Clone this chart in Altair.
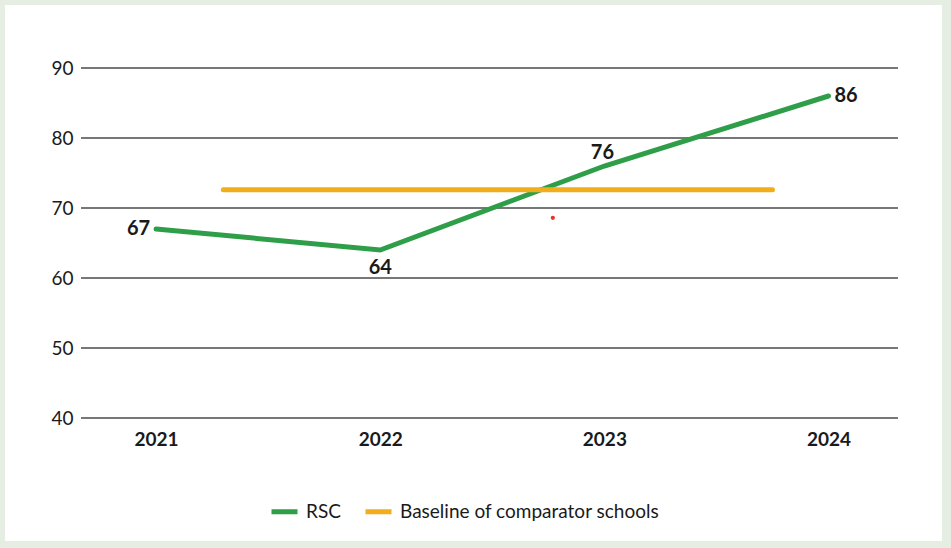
import altair as alt
import pandas as pd

# Series values
years = [2021, 2022, 2023, 2024]
rsc_values = [67, 64, 76, 86]

baseline_label = "Baseline of comparator schools"
baseline_value = 72.6
baseline_span = [2021.3, 2023.75]

marker_point = [2022.77, 68.6]

y_ticks = [40, 50, 60, 70, 80, 90]

series_names = ["RSC", baseline_label]
series_colors = ["#2f9e48", "#f1ae1a"]

FONT = "Lato"
TEXT = "#1a1a1a"

lines_df = pd.DataFrame(
    {"year": years, "value": rsc_values, "series": "RSC"}
)
base_df = pd.DataFrame(
    {"year": baseline_span, "value": [baseline_value] * 2, "series": baseline_label}
)
all_lines = pd.concat([lines_df, base_df], ignore_index=True)

x_scale = alt.Scale(domain=[2020.665, 2024.31], nice=False, zero=False)
y_scale = alt.Scale(domain=[40, 90], nice=False, zero=False)

x_axis = alt.Axis(
    values=years, format="d", title=None, grid=False, domain=False, ticks=False,
    labelFont=FONT, labelFontSize=19, labelFontWeight="bold", labelColor=TEXT,
    labelPadding=12, zindex=1,
)
y_axis = alt.Axis(
    values=y_ticks, title=None, grid=False, domain=False, ticks=False,
    labelFont=FONT, labelFontSize=19, labelColor=TEXT, labelPadding=8, zindex=1,
)

# Outer frame around the white panel
frame = alt.Chart(pd.DataFrame({"k": [0]})).mark_rect(
    fillOpacity=0, stroke="#e6ede3", strokeWidth=10
).encode(
    x=alt.value(-81), x2=alt.value(866), y=alt.value(-68), y2=alt.value(478)
)

grid = alt.Chart(pd.DataFrame({"tick": y_ticks})).mark_rule(
    color="#4a4a4a", strokeWidth=1.3
).encode(y=alt.Y("tick:Q", scale=y_scale, axis=y_axis))

lines = alt.Chart(all_lines).mark_line(strokeWidth=5, strokeCap="round").encode(
    x=alt.X("year:Q", scale=x_scale, axis=x_axis),
    y=alt.Y("value:Q", scale=y_scale),
    color=alt.Color(
        "series:N",
        scale=alt.Scale(domain=series_names, range=series_colors),
        sort=series_names,
        legend=alt.Legend(
            title=None, orient="none", direction="horizontal",
            legendX=188, legendY=428,
            symbolType="stroke", symbolSize=676, symbolStrokeWidth=5,
            labelFont=FONT, labelFontSize=19, labelColor=TEXT, labelLimit=0,
            labelOffset=6, columnPadding=14,
        ),
    ),
    detail="series:N",
)

dot = alt.Chart(
    pd.DataFrame({"year": [marker_point[0]], "value": [marker_point[1]]})
).mark_circle(color="#e8332b", size=18, opacity=1).encode(
    x=alt.X("year:Q", scale=x_scale), y=alt.Y("value:Q", scale=y_scale)
)

label_base = alt.Chart(lines_df).encode(
    x=alt.X("year:Q", scale=x_scale),
    y=alt.Y("value:Q", scale=y_scale),
    text=alt.Text("value:Q", format="d"),
)
text_style = dict(font=FONT, fontSize=20, fontWeight="bold", color=TEXT)

lbl_left = label_base.mark_text(align="right", baseline="middle", dx=-6, **text_style)\
    .transform_filter(alt.datum.year == 2021)
lbl_below = label_base.mark_text(align="center", baseline="top", dy=8, **text_style)\
    .transform_filter(alt.datum.year == 2022)
lbl_above = label_base.mark_text(align="center", baseline="bottom", dy=-3, dx=-2, **text_style)\
    .transform_filter(alt.datum.year == 2023)
lbl_right = label_base.mark_text(align="left", baseline="middle", dx=6, **text_style)\
    .transform_filter(alt.datum.year == 2024)

chart = alt.layer(
    frame, grid, lines, dot, lbl_left, lbl_below, lbl_above, lbl_right
).properties(
    width=817,
    height=350,
    padding={"left": 81, "top": 68, "right": 53, "bottom": 130},
    autosize=alt.AutoSizeParams(type="none"),
    background="white",
).configure_view(stroke=None)

chart.save("out.html", embed_options={"renderer": "svg", "actions": False})
